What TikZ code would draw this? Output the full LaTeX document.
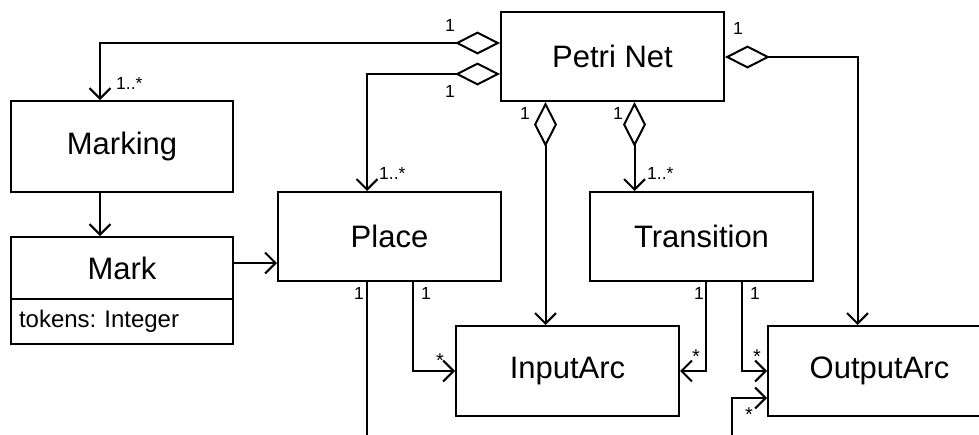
\documentclass[tikz,border=0pt]{standalone}
\usepackage{fontspec}
\setmainfont{Liberation Sans}
\usetikzlibrary{arrows.meta}
\frenchspacing
\begin{document}
\begin{tikzpicture}[x=1pt,y=-1pt,
  cls/.style={draw,line width=2pt,rectangle,minimum width=223pt,minimum height=89pt,inner sep=0pt,font=\fontsize{31}{36}\selectfont},
  conn/.style={line width=2pt},
  arr/.style={conn,-{Straight Barb[length=10.5pt,width=21pt]}},
  agg/.style={conn,{Diamond[open,length=45pt,width=23pt]}-{Straight Barb[length=10.5pt,width=21pt]}},
  mult/.style={inner sep=0pt,anchor=base west,font=\fontsize{17.5}{20}\selectfont},
  star/.style={mult,font=\fontsize{20}{22}\selectfont}]
\useasboundingbox[fill=white] (0,0) rectangle (979,434);
\clip (0,0) rectangle (979,434);
% classes
\node[cls] (pn) at (612.5,56.5) {Petri Net};
\node[cls,minimum width=222pt,minimum height=91pt] (mk) at (122,146.5) {Marking};
\node[cls,minimum width=222pt,minimum height=62pt] (markt) at (122,268) {Mark};
\node[cls,minimum width=222pt,minimum height=45pt,font=\fontsize{24}{28}\selectfont,text width=206pt,align=left] (marka) at (122,321.5) {tokens: Integer};
\node[cls] (pl) at (389.5,236.5) {Place};
\node[cls] (tr) at (701.5,236.5) {Transition};
\node[cls,minimum height=90pt] (ia) at (567.5,371) {InputArc};
\node[cls,minimum height=90pt] (oa) at (879.5,371) {OutputArc};
\coordinate (plend) at (367,440);
\coordinate (oaend) at (732,440);
% connectors
\draw[agg] (pn.west |- 0,43) -| ([xshift=-22pt]mk.north);
\draw[agg] (pn.west |- 0,74) -| ([xshift=-22.5pt]pl.north);
\draw[agg] ([xshift=-67pt]pn.south) -- ([xshift=-67pt]pn.south |- ia.north);
\draw[agg] ([xshift=22pt]pn.south) -- ([xshift=22pt]pn.south |- tr.north);
\draw[agg] (pn.east |- 0,57) -| ([xshift=-22pt]oa.north);
\draw[arr] ([xshift=-22pt]mk.south) -- ([xshift=-22pt]markt.north);
\draw[arr] (markt.east |- 0,263) -- (pl.west |- 0,263);
\draw[arr] ([xshift=23pt]pl.south) |- (ia.west);
\draw[conn] ([xshift=-22.5pt]pl.south) -- (plend);
\draw[arr] ([xshift=4.5pt]tr.south) |- (ia.east);
\draw[arr] ([xshift=40pt]tr.south) |- (oa.west);
\draw[arr] (oaend) |- (oa.west |- 0,398);
% multiplicities
\node[mult] (m1) at (445,31) {1};
\node[mult] (m2) at (116,89) {1..*};
\node[mult] (m3) at (445,97) {1};
\node[mult] (m4) at (379,179) {1..*};
\node[mult] (m5) at (520,119) {1};
\node[mult] (m6) at (613,119) {1};
\node[mult] (m7) at (647,179) {1..*};
\node[mult] (m8) at (733,34) {1};
\node[mult] (m9) at (354,299) {1};
\node[mult] (m10) at (421,299) {1};
\node[star] (m11) at (436,367) {*};
\node[mult] (m12) at (694,299) {1};
\node[star] (m13) at (692,363) {*};
\node[mult] (m14) at (750,299) {1};
\node[star] (m15) at (753,363) {*};
\node[star] (m16) at (745,421) {*};
\end{tikzpicture}
\end{document}
